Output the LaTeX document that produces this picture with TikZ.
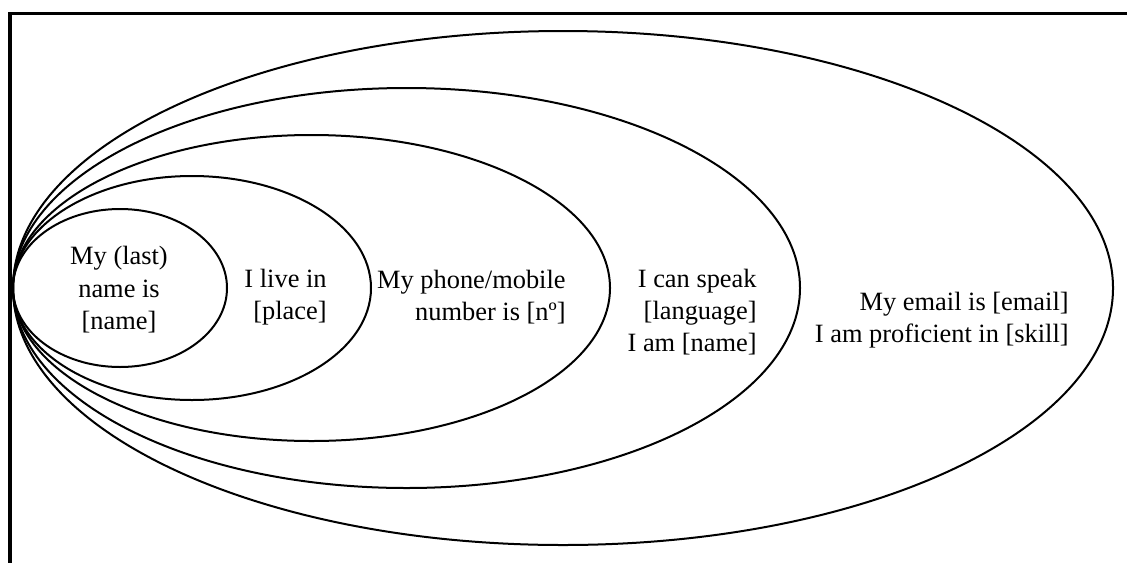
\documentclass[tikz,border=0pt]{standalone}
\usepackage{fontspec}
\setmainfont{Liberation Serif}
\begin{document}
\begin{tikzpicture}[x=0.5pt,y=-0.5pt,
  ring/.style={draw=black,line width=1pt},
  label/.style={inner sep=0pt,align=right,font=\fontsize{13.2pt}{16.2pt}\selectfont},
  clabel/.style={inner sep=0pt,align=center,font=\fontsize{13.2pt}{16.2pt}\selectfont}]
\useasboundingbox (0,0) rectangle (1127,562);
% frame
\draw[line width=1.6pt] (10,580) -- (10,13.5) -- (1140,13.5);
% nested ellipses sharing the left tangent point
\draw[ring] (563,288) ellipse [x radius=550,y radius=257];
\draw[ring] (406.5,288) ellipse [x radius=393.5,y radius=200];
\draw[ring] (311.5,288) ellipse [x radius=298.5,y radius=153];
\draw[ring] (192,288) ellipse [x radius=179,y radius=112];
\draw[ring] (120,288) ellipse [x radius=107,y radius=79];
% texts
\node[clabel] (t1) at (119,290) {My (last)\\name is\\[0pt][name]};
\node[label,anchor=east] (t2) at (327,297) {I live in\\[0pt][place]};
\node[label,anchor=east] (t3) at (566,297) {My phone/mobile\\number is [nº]};
\node[label,anchor=east] (t4) at (757,312) {I can speak\\[0pt][language]\\I am [name]};
\node[label,anchor=east] (t5) at (1069,320) {My email is [email]\\I am proficient in [skill]};
\end{tikzpicture}
\end{document}
